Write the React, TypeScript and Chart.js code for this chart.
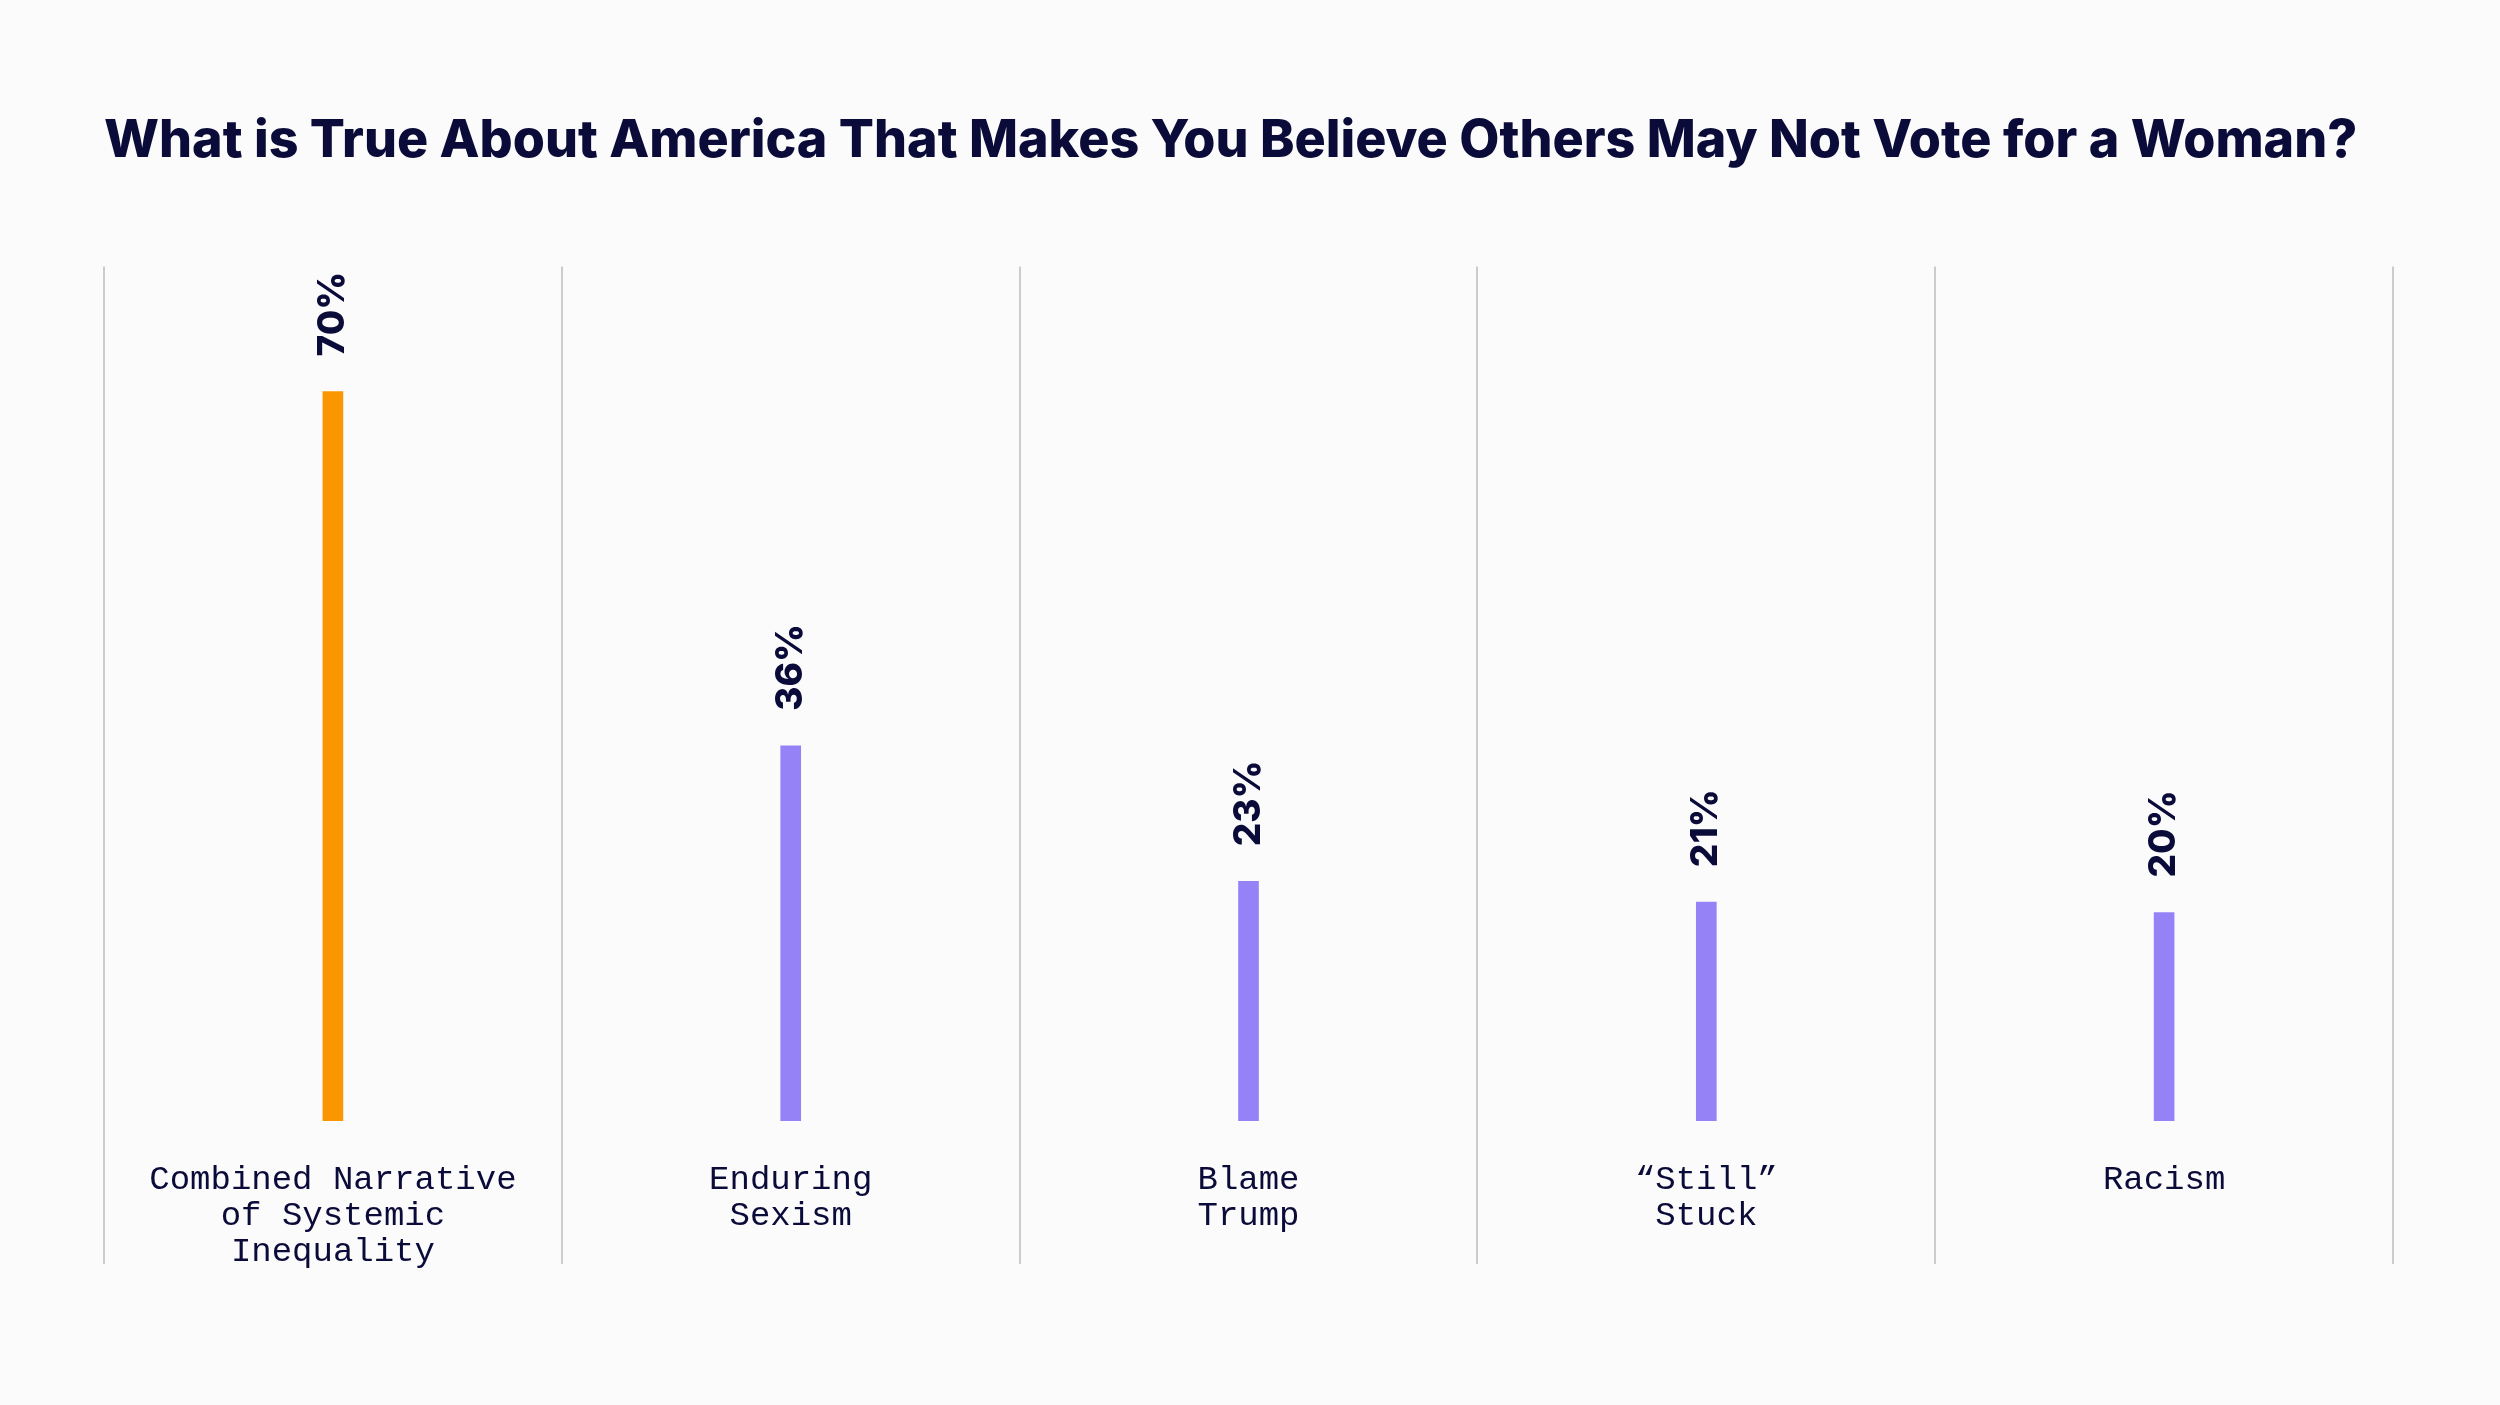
import React, { useEffect, useRef } from "react";
import { Chart, registerables } from "chart.js";

Chart.register(...registerables);

const TITLE = "What is True About America That Makes You Believe Others May Not Vote for a Woman?";
const categories: string[][] = [
  ["Combined Narrative", "of Systemic", "Inequality"],
  ["Enduring", "Sexism"],
  ["Blame", "Trump"],
  ["“Still”", "Stuck"],
  ["Racism"],
];
const values: number[] = [70, 36, 23, 21, 20];
const barColors: string[] = ["#FA9600", "#9682F7", "#9682F7", "#9682F7", "#9682F7"];

const NAVY = "#0B0B3A";
const BG = "#FBFBFB";

const bgPlugin = {
  id: "bgFill",
  beforeDraw(chart: any) {
    const { ctx, width, height } = chart;
    ctx.save();
    ctx.fillStyle = BG;
    ctx.fillRect(0, 0, width, height);
    ctx.restore();
  },
};

const valueLabelPlugin = {
  id: "valueLabels",
  afterDatasetsDraw(chart: any) {
    const { ctx } = chart;
    const meta = chart.getDatasetMeta(0);
    const data = chart.data.datasets[0].data as number[];
    ctx.save();
    ctx.fillStyle = NAVY;
    ctx.font = "800 37px Inter";
    ctx.textAlign = "left";
    ctx.textBaseline = "middle";
    meta.data.forEach((bar: any, i: number) => {
      ctx.save();
      ctx.translate(bar.x, bar.y - 35);
      ctx.rotate(-Math.PI / 2);
      ctx.fillText(`${data[i]}%`, 0, 0);
      ctx.restore();
    });
    ctx.restore();
  },
};

export default function App() {
  const canvasRef = useRef<HTMLCanvasElement | null>(null);

  useEffect(() => {
    document.body.style.margin = "0";
    document.body.style.background = BG;
    const canvas = canvasRef.current;
    if (!canvas) return;
    const chart = new Chart(canvas, {
      type: "bar",
      data: {
        labels: categories,
        datasets: [
          {
            data: values,
            backgroundColor: barColors,
            barThickness: 20,
            borderWidth: 0,
          },
        ],
      },
      plugins: [bgPlugin, valueLabelPlugin],
      options: {
        animation: false,
        responsive: true,
        maintainAspectRatio: false,
        devicePixelRatio: 1,
        layout: { padding: { left: 104, right: 107, top: 0, bottom: 84 } },
        plugins: {
          legend: { display: false },
          tooltip: { enabled: false },
          title: {
            display: true,
            text: TITLE,
            align: "start",
            color: NAVY,
            font: { family: "Inter", weight: "800", size: 52, lineHeight: 1.2 },
            padding: { top: 110, bottom: 94 },
          },
        },
        scales: {
          x: {
            offset: true,
            grid: {
              offset: true,
              display: true,
              drawOnChartArea: true,
              drawTicks: true,
              tickLength: 143,
              color: "#CCCCCC",
              lineWidth: 2,
            },
            border: { display: false },
            ticks: {
              color: NAVY,
              font: { family: "Liberation Mono", size: 34, lineHeight: 1.06 },
              padding: -102,
              maxRotation: 0,
              minRotation: 0,
              autoSkip: false,
            },
            afterFit: (scale: any) => {
              scale.height = 200;
            },
          },
          y: {
            display: false,
            min: 0,
            max: 82,
          },
        },
      },
    });
    return () => chart.destroy();
  }, []);

  return (
    <div style={{ width: "2500px", height: "1405px", position: "relative", background: BG }}>
      <canvas ref={canvasRef} />
    </div>
  );
}
